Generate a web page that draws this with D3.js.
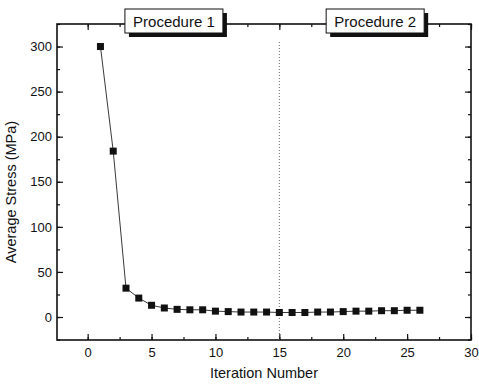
<!DOCTYPE html>
<html>
<head>
<meta charset="utf-8">
<script src="https://cdn.jsdelivr.net/npm/d3@7"></script>
<style>
    body { margin: 0; background: #fff; }
    text { font-family: "Liberation Sans", Arial, sans-serif; fill: #111; }
</style>
</head>
<body>
<svg id="chart" width="479" height="385"></svg>
<script>
// Data
const iterations = [1, 2, 3, 4, 5, 6, 7, 8, 9, 10, 11, 12, 13, 14, 15, 16, 17, 18, 19, 20, 21, 22, 23, 24, 25, 26];
const avgStress = [300, 184, 32, 21, 13, 10, 8.5, 8, 8, 6.5, 6, 5.5, 5.5, 5.5, 5, 5, 5, 5.5, 5.5, 6, 6.5, 6.5, 7, 7, 7.5, 7.5];
const xTicks = [0, 5, 10, 15, 20, 25, 30];
const yTicks = [0, 50, 100, 150, 200, 250, 300];
const procedures = [
    { label: "Procedure 1", x: 6.75 },
    { label: "Procedure 2", x: 22.5 }
];
const boundary = 15;

let svg = d3.select("#chart");
let margin = { left: 57, top: 24, right: 8, bottom: 45 };
let width = 479 - margin.left - margin.right;
let height = 385 - margin.top - margin.bottom;

let xScale = d3.scaleLinear().domain([-2.4, 30]).range([0, width]);
let yScale = d3.scaleLinear().domain([-25.5, 325]).range([height, 0]);

let g = svg.append("g")
    .attr("transform", `translate(${margin.left},${margin.top})`);

// minor ticks
let xMinor = d3.range(-2.5, 30.1, 2.5).filter(v => v >= -2.4);
let yMinor = d3.range(-25, 326, 25);

function drawAxis(axis, transform, majors, minors, fmt, pad) {
    let a = g.append("g").attr("transform", transform);
    a.call(axis.tickValues(minors).tickSize(-3).tickFormat(""));
    a.selectAll(".domain").remove();
    let b = g.append("g").attr("transform", transform);
    b.call(axis.tickValues(majors).tickSize(-6).tickFormat(fmt).tickPadding(pad));
    b.selectAll(".domain").remove();
    b.selectAll("text").style("font-size", "13px");
    return b;
}

drawAxis(d3.axisBottom(xScale), `translate(0,${height})`, xTicks, xMinor, d3.format("d"), 8);
drawAxis(d3.axisTop(xScale), "translate(0,0)", xTicks, xMinor, "", 5).selectAll("text").remove();
drawAxis(d3.axisLeft(yScale), "translate(0,0)", yTicks, yMinor, d3.format("d"), 5);
drawAxis(d3.axisRight(yScale), `translate(${width},0)`, yTicks, yMinor, "", 5).selectAll("text").remove();

g.selectAll(".tick line").attr("stroke", "#111").attr("stroke-width", 1.2);

// frame
g.append("rect")
    .attr("width", width)
    .attr("height", height)
    .attr("fill", "none")
    .attr("stroke", "#111")
    .attr("stroke-width", 1.6);

// procedure boundary
g.append("line")
    .attr("x1", xScale(boundary)).attr("x2", xScale(boundary))
    .attr("y1", 18).attr("y2", height)
    .attr("stroke", "#444")
    .attr("stroke-width", 0.8)
    .attr("stroke-dasharray", "1,2");

// series line
let line = d3.line()
    .x((d, i) => xScale(iterations[i]))
    .y(d => yScale(d));

g.append("path")
    .datum(avgStress)
    .attr("d", line)
    .attr("fill", "none")
    .attr("stroke", "#222")
    .attr("stroke-width", 0.9);

g.selectAll(".pt")
    .data(avgStress)
    .join("rect")
    .attr("class", "pt")
    .attr("x", (d, i) => xScale(iterations[i]) - 3.5)
    .attr("y", d => yScale(d) - 3.5)
    .attr("width", 7)
    .attr("height", 7)
    .attr("fill", "#111");

// procedure labels in boxes with a drop shadow
procedures.forEach(p => {
    let cx = xScale(p.x);
    let bw = 98, bh = 24;
    let bx = cx - bw / 2, by = -15;
    g.append("rect")
        .attr("x", bx + 4).attr("y", by + 4)
        .attr("width", bw).attr("height", bh)
        .attr("fill", "#111");
    g.append("rect")
        .attr("x", bx).attr("y", by)
        .attr("width", bw).attr("height", bh)
        .attr("fill", "#fff")
        .attr("stroke", "#111")
        .attr("stroke-width", 1);
    g.append("text")
        .attr("x", cx).attr("y", by + bh / 2 + 5.5)
        .attr("text-anchor", "middle")
        .style("font-size", "15px")
        .text(p.label);
});

// axis titles
svg.append("text")
    .attr("x", 264)
    .attr("y", 378)
    .attr("text-anchor", "middle")
    .style("font-size", "14.5px")
    .text("Iteration Number");

svg.append("text")
    .attr("transform", "translate(16,192) rotate(-90)")
    .attr("text-anchor", "middle")
    .style("font-size", "14.5px")
    .text("Average Stress (MPa)");
</script>
</body>
</html>
